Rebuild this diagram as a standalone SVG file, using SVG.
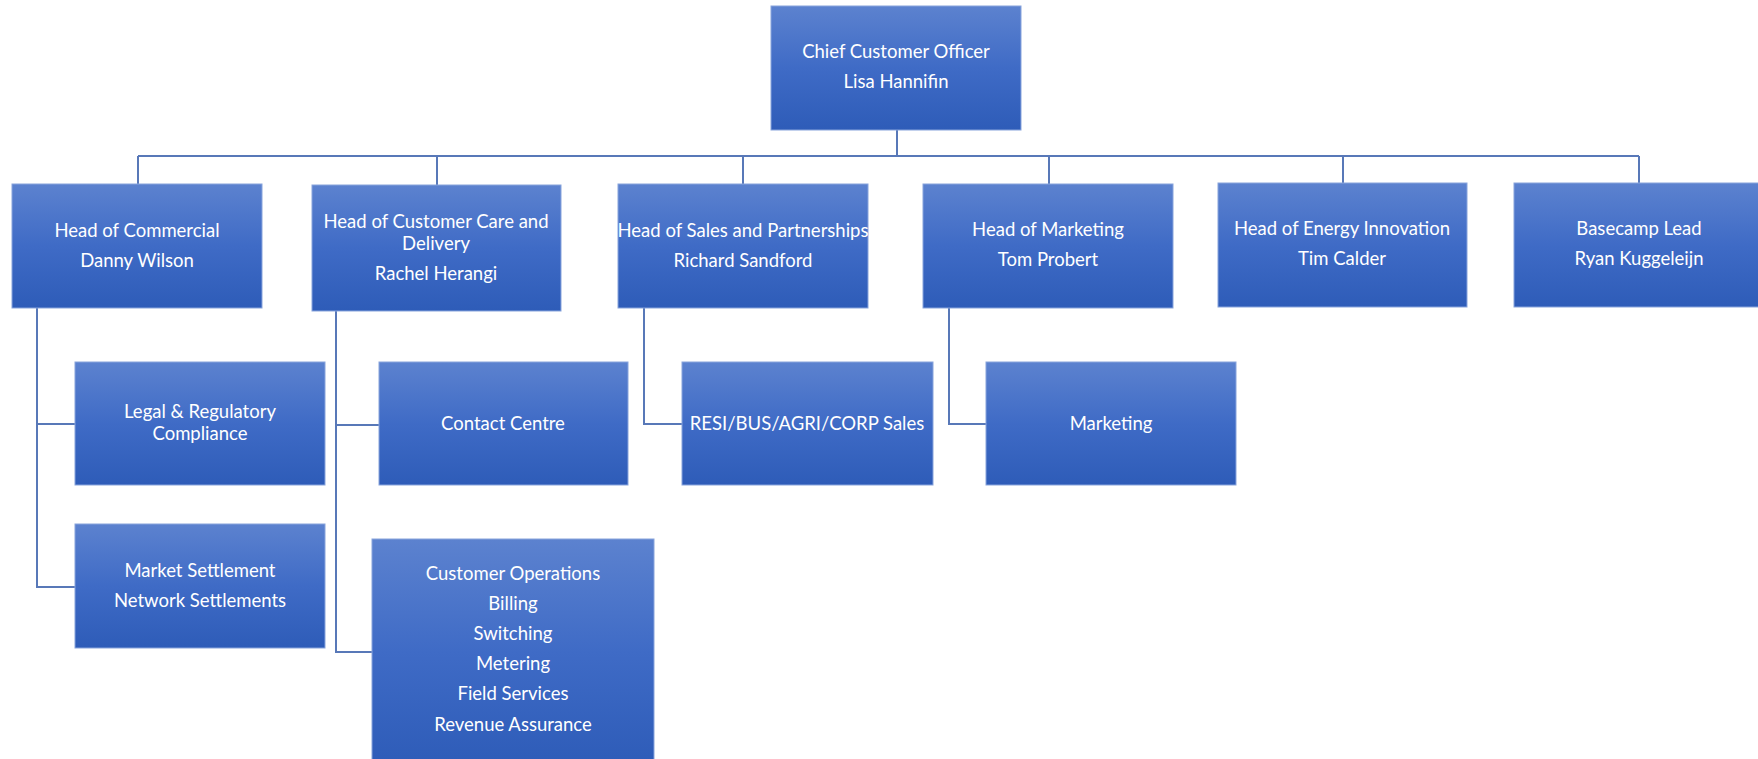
<svg xmlns="http://www.w3.org/2000/svg" width="1758" height="759" viewBox="0 0 1758 759">
<defs>
<linearGradient id="g" x1="0" y1="0" x2="0" y2="1">
<stop offset="0" stop-color="#5c82cf"/>
<stop offset="0.5" stop-color="#3f6bc6"/>
<stop offset="1" stop-color="#2e5cb8"/>
</linearGradient>
<style>
.b{fill:url(#g);stroke:#88a4dc;stroke-width:1}
.t{font-family:Lato,"Liberation Sans",sans-serif;font-size:18.5px;fill:#ffffff;text-anchor:middle}
.c{fill:none;stroke:#5878b8;stroke-width:2}
</style>
</defs>
<rect width="1758" height="759" fill="#ffffff"/>
<g id="connectors">
<path class="c" d="M897 130V156M138 156H1639M138 156V184M437 156V185M743 156V184M1049 156V184M1343 156V183M1639 156V183"/>
<path class="c" d="M37 308V587H75M37 424H75"/>
<path class="c" d="M336 311V652H372M336 425H379"/>
<path class="c" d="M644 308V424H682"/>
<path class="c" d="M949 308V424H986"/>
</g>
<g id="cco"><rect class="b" x="771" y="6" width="250" height="124"/><text class="t" x="896" y="58">Chief Customer Officer</text><text class="t" x="896" y="88">Lisa Hannifin</text></g>
<g id="commercial"><rect class="b" x="12" y="184" width="250" height="124"/><text class="t" x="137" y="237">Head of Commercial</text><text class="t" x="137" y="267">Danny Wilson</text></g>
<g id="care"><rect class="b" x="312" y="185" width="249" height="126"/><text class="t" x="436" y="228">Head of Customer Care and</text><text class="t" x="436" y="250">Delivery</text><text class="t" x="436" y="280">Rachel Herangi</text></g>
<g id="sales"><rect class="b" x="618" y="184" width="250" height="124"/><text class="t" x="743" y="237">Head of Sales and Partnerships</text><text class="t" x="743" y="267">Richard Sandford</text></g>
<g id="marketing-head"><rect class="b" x="923" y="184" width="250" height="124"/><text class="t" x="1048" y="236">Head of Marketing</text><text class="t" x="1048" y="266">Tom Probert</text></g>
<g id="energy"><rect class="b" x="1218" y="183" width="249" height="124"/><text class="t" x="1342" y="235">Head of Energy Innovation</text><text class="t" x="1342" y="265">Tim Calder</text></g>
<g id="basecamp"><rect class="b" x="1514" y="183" width="250" height="124"/><text class="t" x="1639" y="235">Basecamp Lead</text><text class="t" x="1639" y="265">Ryan Kuggeleijn</text></g>
<g id="legal"><rect class="b" x="75" y="362" width="250" height="123"/><text class="t" x="200" y="418">Legal &amp; Regulatory</text><text class="t" x="200" y="440">Compliance</text></g>
<g id="contact"><rect class="b" x="379" y="362" width="249" height="123"/><text class="t" x="503" y="430">Contact Centre</text></g>
<g id="resi"><rect class="b" x="682" y="362" width="251" height="123"/><text class="t" x="807" y="430">RESI/BUS/AGRI/CORP Sales</text></g>
<g id="marketing"><rect class="b" x="986" y="362" width="250" height="123"/><text class="t" x="1111" y="430">Marketing</text></g>
<g id="settlement"><rect class="b" x="75" y="524" width="250" height="124"/><text class="t" x="200" y="577">Market Settlement</text><text class="t" x="200" y="607">Network Settlements</text></g>
<g id="operations"><rect class="b" x="372" y="539" width="282" height="225"/><text class="t" x="513" y="580">Customer Operations</text><text class="t" x="513" y="610">Billing</text><text class="t" x="513" y="640">Switching</text><text class="t" x="513" y="670">Metering</text><text class="t" x="513" y="700">Field Services</text><text class="t" x="513" y="731">Revenue Assurance</text></g>
</svg>
